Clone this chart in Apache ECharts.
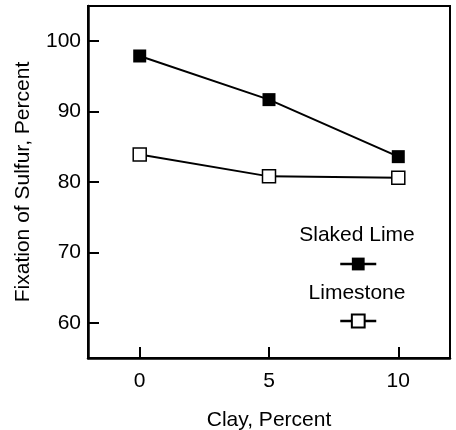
<!DOCTYPE html>
<html>
<head>
<meta charset="utf-8">
<script src="https://cdn.jsdelivr.net/npm/echarts@6/dist/echarts.min.js"></script>
<style>
  html, body { margin: 0; padding: 0; background: #fff; }
  #chart { width: 456px; height: 430px; }
</style>
</head>
<body>
<div id="chart"></div>
<script>
// Clay content (percent) and sulfur fixation (percent) for two sorbents
const clayPercent = [0, 5, 10];
const slakedLime = [97.9, 91.7, 83.6];
const limestone = [83.9, 80.8, 80.6];
const xTicks = [0, 5, 10];
const yTicks = [60, 70, 80, 90, 100];

const FONT = '"Liberation Sans", Arial, Helvetica, sans-serif';

function pairs(xs, ys) {
  return xs.map((x, i) => [x, ys[i]]);
}

const chart = echarts.init(document.getElementById('chart'), null, { renderer: 'canvas' });

chart.setOption({
  animation: false,
  backgroundColor: '#fff',
  grid: {
    left: 88, right: 6, top: 6, bottom: 72,
    outerBoundsMode: 'none',
    containLabel: false,
    show: true, borderColor: '#000', borderWidth: 2
  },
  xAxis: {
    type: 'value',
    min: -2, max: 12,
    name: 'Clay, Percent',
    nameLocation: 'middle',
    nameGap: 52,
    nameTextStyle: { fontFamily: FONT, fontSize: 21, color: '#000' },
    axisLine: { show: true, onZero: false, lineStyle: { color: '#000', width: 2.5 } },
    axisTick: { show: true, inside: true, length: 11, customValues: xTicks,
                lineStyle: { color: '#000', width: 2 } },
    axisLabel: { customValues: xTicks, margin: 13,
                 fontFamily: FONT, fontSize: 21, color: '#000' },
    splitLine: { show: false }
  },
  yAxis: {
    type: 'value',
    min: 55, max: 105,
    name: 'Fixation of Sulfur, Percent',
    nameLocation: 'middle',
    nameGap: 54,
    nameTextStyle: { fontFamily: FONT, fontSize: 21, color: '#000' },
    axisLine: { show: true, onZero: false, lineStyle: { color: '#000', width: 2.5 } },
    axisTick: { show: true, inside: true, length: 11, customValues: yTicks,
                lineStyle: { color: '#000', width: 2 } },
    axisLabel: { customValues: yTicks, margin: 7,
                 fontFamily: FONT, fontSize: 21, color: '#000' },
    splitLine: { show: false }
  },
  legend: [
    {
      data: ['Slaked Lime'],
      left: 339, top: 256,
      padding: 0,
      itemWidth: 36, itemHeight: 16,
      lineStyle: { width: 2.5 },
      formatter: () => '',
      selectedMode: false
    },
    {
      data: ['Limestone'],
      left: 339, top: 313,
      padding: 0,
      itemWidth: 36, itemHeight: 16,
      lineStyle: { width: 2.5 },
      formatter: () => '',
      selectedMode: false
    }
  ],
  graphic: [
    {
      type: 'text', x: 357, y: 235,
      style: { text: 'Slaked Lime', font: '21px ' + FONT, fill: '#000',
               align: 'center', verticalAlign: 'middle' }
    },
    {
      type: 'text', x: 357, y: 293,
      style: { text: 'Limestone', font: '21px ' + FONT, fill: '#000',
               align: 'center', verticalAlign: 'middle' }
    }
  ],
  series: [
    {
      name: 'Slaked Lime',
      type: 'line',
      data: pairs(clayPercent, slakedLime),
      symbol: 'rect',
      symbolSize: 13,
      itemStyle: { color: '#000', borderColor: '#000', borderWidth: 0 },
      lineStyle: { color: '#000', width: 2 }
    },
    {
      name: 'Limestone',
      type: 'line',
      data: pairs(clayPercent, limestone),
      symbol: 'rect',
      symbolSize: 13,
      itemStyle: { color: '#fff', borderColor: '#000', borderWidth: 1.5 },
      lineStyle: { color: '#000', width: 2 }
    }
  ]
});
</script>
</body>
</html>
